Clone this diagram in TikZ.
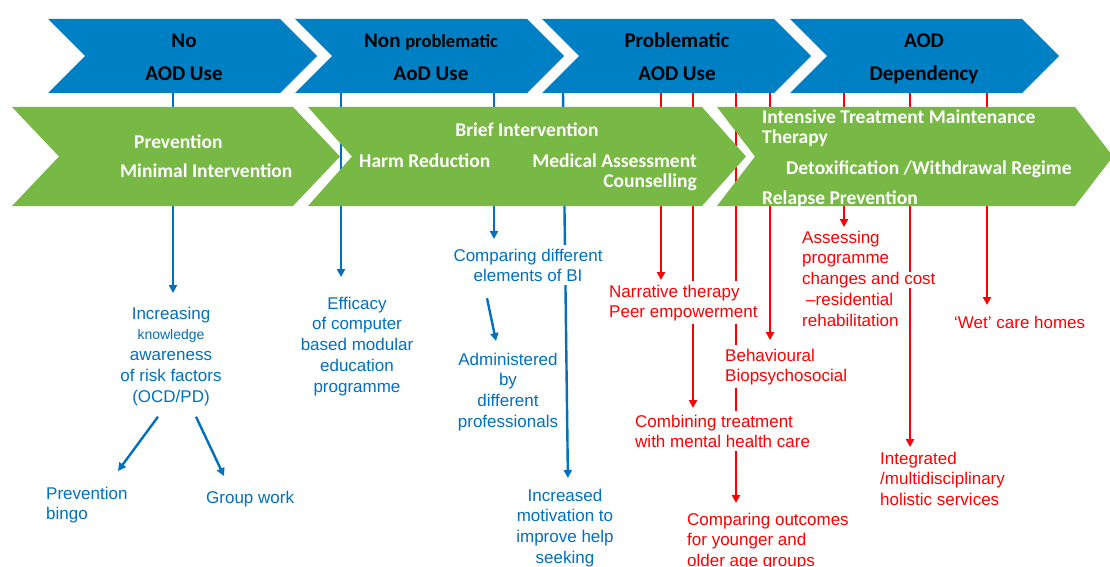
\documentclass[tikz,border=0pt]{standalone}
\usepackage{fontspec}
\setmainfont{Liberation Sans}
\newfontfamily\chevfont{Carlito}
\usetikzlibrary{arrows.meta}
\tikzset{>={Triangle[length=8pt,width=8pt]}}
\definecolor{hdblue}{RGB}{0,128,196}
\definecolor{ivgreen}{RGB}{120,185,70}
\definecolor{txblue}{RGB}{0,112,192}
\definecolor{txred}{RGB}{255,0,0}
\newcommand{\ftop}{\rule{0pt}{13pt}}
\newcommand{\ctop}{\rule{0pt}{14pt}}
\newcommand{\cover}[1]{{\setlength{\fboxsep}{0pt}\smash{\colorbox{white}{#1}}}}
\pgfdeclarelayer{arrows}
\pgfsetlayers{arrows,main}

\begin{document}
\begin{tikzpicture}[x=1pt, y=-1pt,
    hd/.style={font=\chevfont\bfseries\fontsize{21}{33}\selectfont, inner sep=0pt, align=center, anchor=north},
    iv/.style={font=\chevfont\bfseries\fontsize{19.5}{20}\selectfont, text=white, inner sep=0pt},
    lbl/.style={font=\fontsize{17}{20.7}\selectfont, inner sep=3pt, fill=white},
    bl/.style={lbl, text=txblue, align=center, anchor=north},
    rd/.style={lbl, text=txred, align=left, anchor=north west},
    barrow/.style={->, draw=txblue, line width=2.4pt},
    rarrow/.style={->, draw=txred, line width=2.4pt}]
  \useasboundingbox (0,0) rectangle (1110,567);

  % stages
  \foreach \l in {48,295,542,790}
    \fill[hdblue] (\l,19) -- ++(232,0) -- ++(37,37) -- ++(-37,37) -- ++(-232,0) -- ++(37,-37) -- cycle;
  \node[hd] (nouse) at (184,33) {\ctop No\\AOD Use};
  \node[hd] (nonprob) at (431,33) {\ctop Non {\fontsize{18.5}{33}\selectfont problematic}\\AoD Use};
  \node[hd] (prob) at (677,33) {\ctop Problematic\\AOD Use};
  \node[hd] (dep) at (924,33) {\ctop AOD\\Dependency};

  % interventions
  \foreach \l/\w/\d in {12/281/47,308/394/44,717/358/38}
    \fill[ivgreen] (\l,107) -- ++(\w,0) -- ++(\d,49.5) -- ++(-\d,49.5) -- ++(-\w,0) -- ++(\d,-49.5) -- cycle;
  \node[iv, anchor=north west] (prevn) at (134,134) {\ctop Prevention};
  \node[iv, anchor=north west] (minint) at (120,163) {\ctop Minimal Intervention};
  \node[iv, anchor=north] (brief) at (527,122) {\ctop Brief Intervention};
  \node[iv, anchor=north west] (harm) at (359,153) {\ctop Harm Reduction};
  \node[iv, anchor=north east, align=right] (medass) at (697,153) {\ctop Medical Assessment\\Counselling};
  \node[iv, anchor=north west, align=left] (intens) at (762,109) {\ctop Intensive Treatment Maintenance\\Therapy};
  \node[iv, anchor=north west] (detox) at (786,160) {\ctop Detoxification /Withdrawal Regime};
  \node[iv, anchor=north west] (relapse) at (762,190) {\ctop Relapse Prevention};

  % research topics
  \node[bl] (incaw) at (171,303) {\ftop Increasing\\{\fontsize{14}{20.7}\selectfont knowledge}\\awareness\\of risk factors\\(OCD/PD)};
  \node[bl] (efficacy) at (357,293) {\ftop Efficacy\\of computer\\based modular\\education\\programme};
  \node[bl] (compbi) at (528,245) {\ftop Comparing different\\elements of BI};
  \node[bl] (admin) at (508,349) {\ftop Administered\\by\\different\\professionals};
  \node[bl] (motiv) at (565,485) {\ftop Increased\\motivation to\\improve help\\seeking};
  \node[bl, anchor=north west, align=left] (bingo) at (43,483) {\ftop Prevention\\bingo};
  \node[bl, anchor=north west] (group) at (203,487) {\ftop Group work};

  \node[rd] (narr) at (606,281) {\ftop Narrative therapy\\Peer empowerment};
  \node[rd] (combine) at (632,411) {\ftop Combining treatment\\with mental health care};
  \node[rd] (agegrp) at (684,509) {\ftop Comparing outcomes\\for younger and\\older age groups};
  \node[rd] (behav) at (722,345) {\ftop Behavioural\\Biopsychosocial};
  \node[rd, fill=none] (assess) at (799,227) {\ftop Assessing\\programme\\\cover{changes and cost}\\\hspace*{4pt}–residential\\rehabilitation};
  \node[rd] (integ) at (877,448) {\ftop Integrated\\/multidisciplinary\\holistic services};
  \node[rd] (wet) at (951,312) {\ftop ‘Wet’ care homes};

  % arrows
  \coordinate (b1) at (173,93);
  \coordinate (b2) at (341,93);
  \coordinate (b3) at (494,93);
  \coordinate (b4) at (563,93);
  \coordinate (r1) at (661,93);
  \coordinate (r2) at (693,93);
  \coordinate (r3) at (736,93);
  \coordinate (r4) at (770,93);
  \coordinate (r5) at (844,93);
  \coordinate (r6) at (910,93);
  \coordinate (r7) at (987,93);
  \begin{pgfonlayer}{arrows}
    \draw[barrow, shorten >=10pt] (b1) -- (b1 |- incaw.north);
    \draw[barrow, shorten >=16pt] (b2) -- (b2 |- efficacy.north);
    \draw[barrow, shorten >=6pt] (b3) -- (b3 |- compbi.north);
    \draw[barrow, shorten >=7pt] (b4) -- ([xshift=3pt]motiv.north);
    \draw[barrow] ([xshift=-13pt,yshift=-8pt]incaw.south) -- ([xshift=75pt,yshift=12pt]bingo.north west);
    \draw[barrow] ([xshift=25pt,yshift=-8pt]incaw.south) -- ([xshift=21pt,yshift=11pt]group.north west);
    \draw[barrow] ([xshift=-41pt,yshift=-13pt]compbi.south) -- ([xshift=-12pt,yshift=8pt]admin.north);
    \draw[rarrow, shorten >=1pt] (r1) -- (r1 |- narr.north);
    \draw[rarrow, shorten >=3pt] (r2) -- (r2 |- combine.north);
    \draw[rarrow, shorten >=6pt] (r3) -- (r3 |- agegrp.north);
    \draw[rarrow, shorten >=5pt] (r4) -- (r4 |- behav.north);
    \draw[rarrow] (r5) -- (r5 |- assess.north);
    \draw[rarrow, shorten >=1pt] (r6) -- (r6 |- integ.north);
    \draw[rarrow, shorten >=7pt] (r7) -- (r7 |- wet.north);
  \end{pgfonlayer}
\end{tikzpicture}
\end{document}
